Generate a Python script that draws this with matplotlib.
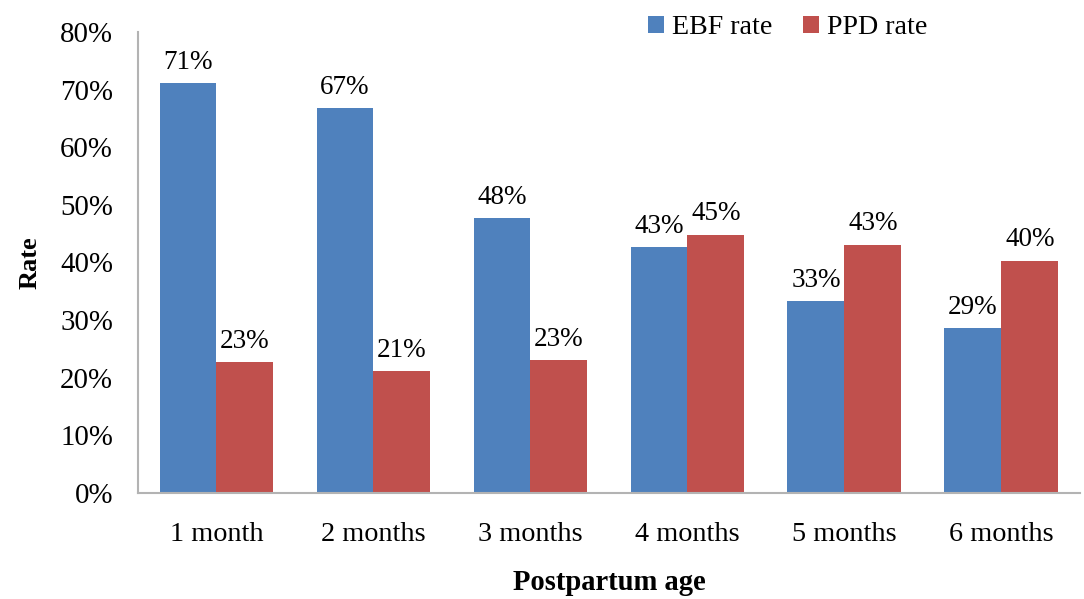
import numpy as np
import matplotlib
matplotlib.use("Agg")
import matplotlib.pyplot as plt
from matplotlib.ticker import FuncFormatter

plt.rcParams['font.family'] = ['Liberation Serif', 'DejaVu Serif']

# data (percent)
ages = ['1 month', '2 months', '3 months', '4 months', '5 months', '6 months']
ebf_rate = [71.1, 66.8, 47.7, 42.6, 33.3, 28.6]
ppd_rate = [22.7, 21.1, 23.0, 44.8, 43.1, 40.3]

blue = '#4F81BD'
red = '#C0504D'
spine_col = '#B3B3B3'

fig = plt.figure(figsize=(10.84, 5.99), dpi=100)
ax = fig.add_axes([0.1273, 0.177, 0.869, 0.7696])

x = np.arange(len(ages))
w = 0.363
b1 = ax.bar(x - w / 2, ebf_rate, w, color=blue, label='EBF rate')
b2 = ax.bar(x + w / 2, ppd_rate, w, color=red, label='PPD rate')

# value labels above bars
for bars, vals in ((b1, ebf_rate), (b2, ppd_rate)):
    for rect, v in zip(bars, vals):
        ax.annotate('%d%%' % round(v), (rect.get_x() + rect.get_width() / 2, v),
                    xytext=(0, 6), textcoords='offset points',
                    ha='center', va='bottom', fontsize=19.5)

ax.set_xlim(-0.5, len(ages) - 0.5)
ax.set_ylim(0, 80)
ax.set_yticks(np.arange(0, 81, 10))
ax.yaxis.set_major_formatter(FuncFormatter(lambda v, p: '%d%%' % v))
ax.set_xticks(x)
ax.set_xticklabels(ages)
ax.tick_params(axis='both', length=0)
ax.tick_params(axis='x', pad=21, labelsize=20.3)
ax.tick_params(axis='y', pad=18, labelsize=20.8)

for s in ('top', 'right'):
    ax.spines[s].set_visible(False)
for s in ('left', 'bottom'):
    ax.spines[s].set_color(spine_col)
    ax.spines[s].set_linewidth(1.5)

ax.set_ylabel('Rate', fontsize=19, fontweight='bold', labelpad=13)
ax.set_xlabel('Postpartum age', fontsize=20.6, fontweight='bold', labelpad=16)

fig.legend(loc='center', bbox_to_anchor=(788 / 1084, 1 - 28 / 599), ncol=2,
           frameon=False, fontsize=20.2, handlelength=0.55, handleheight=0.55,
           handletextpad=0.3, columnspacing=1.1)

fig.savefig('out.png', dpi=100)
